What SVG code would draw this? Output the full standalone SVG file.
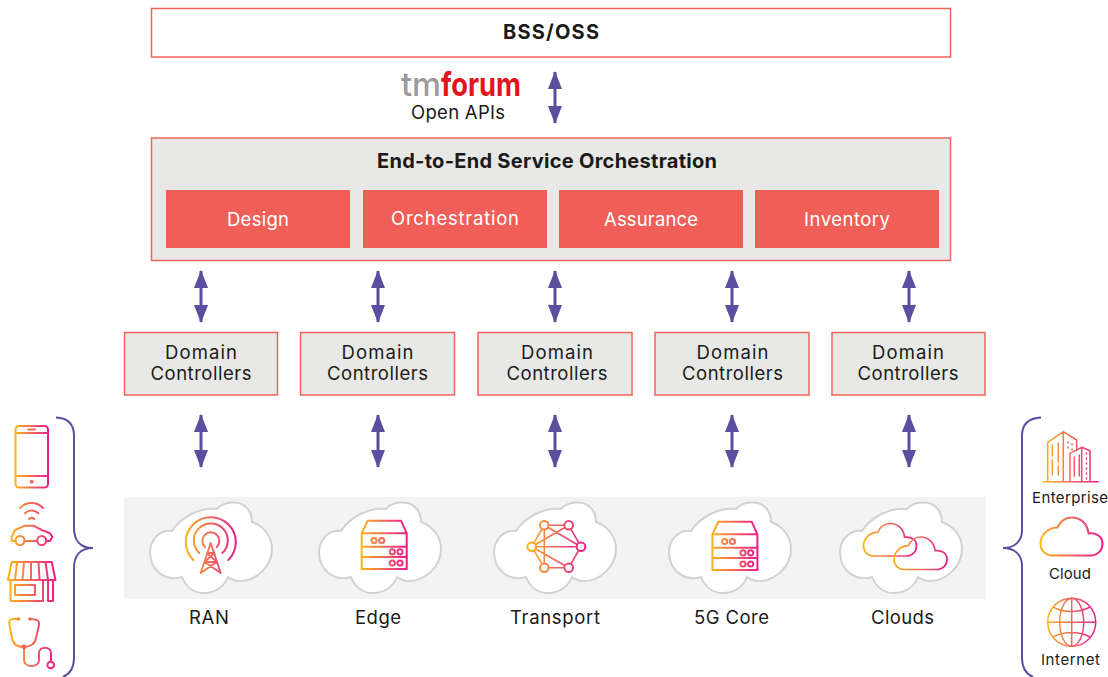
<svg xmlns="http://www.w3.org/2000/svg" xmlns:xlink="http://www.w3.org/1999/xlink" width="1108" height="677" viewBox="0 0 1108 677">
<style>
text{font-family:"Inter","Lato",sans-serif;fill:#1a1a1a;text-anchor:middle;font-size:18.5px;font-weight:400}
.b{font-weight:700;font-size:20px}
.w{fill:#fff}
.s{font-size:15px}
.logo{font-size:33px;font-weight:700}
.box{fill:#e8e8e6;stroke:#f0645c;stroke-width:1.5}
.red{fill:#ef5f58}
.cl{fill:#fff;stroke:#d2d2d2;stroke-width:2}
.arr{stroke:#5a4e9f;stroke-width:3;fill:none;marker-start:url(#ah);marker-end:url(#ah)}
.brace{fill:none;stroke:#5a4e9f;stroke-width:2}
.i{fill:none;stroke-width:2;stroke-linecap:round;stroke-linejoin:round}
.t{stroke-width:1.5}
</style>
<defs>
<marker id="ah" viewBox="0 0 18 14" refX="17" refY="7" markerWidth="18" markerHeight="14" markerUnits="userSpaceOnUse" orient="auto-start-reverse"><path d="M0 0L18 7L0 14Z" fill="#5a4e9f"/></marker>
<linearGradient id="g0"><stop offset="0" stop-color="#fdb515"/><stop offset=".5" stop-color="#f0675c"/><stop offset="1" stop-color="#ec1a8c"/></linearGradient>
<linearGradient id="gPhone" xlink:href="#g0" href="#g0" gradientUnits="userSpaceOnUse" x1="15" x2="49" y1="0" y2="0"/>
<linearGradient id="gCar" xlink:href="#g0" href="#g0" gradientUnits="userSpaceOnUse" x1="10" x2="54" y1="0" y2="0"/>
<linearGradient id="gStore" xlink:href="#g0" href="#g0" gradientUnits="userSpaceOnUse" x1="8" x2="56" y1="0" y2="0"/>
<linearGradient id="gSteth" xlink:href="#g0" href="#g0" gradientUnits="userSpaceOnUse" x1="9" x2="55" y1="0" y2="0"/>
<linearGradient id="gRan" xlink:href="#g0" href="#g0" gradientUnits="userSpaceOnUse" x1="185" x2="236" y1="0" y2="0"/>
<linearGradient id="gEdge" xlink:href="#g0" href="#g0" gradientUnits="userSpaceOnUse" x1="361" x2="407" y1="0" y2="0"/>
<linearGradient id="gTrans" xlink:href="#g0" href="#g0" gradientUnits="userSpaceOnUse" x1="527" x2="586" y1="0" y2="0"/>
<linearGradient id="gEnt" xlink:href="#g0" href="#g0" gradientUnits="userSpaceOnUse" x1="1043" x2="1099" y1="0" y2="0"/>
<linearGradient id="gCl" xlink:href="#g0" href="#g0" gradientUnits="userSpaceOnUse" x1="0" x2="62" y1="0" y2="0"/>
<linearGradient id="gGlobe" xlink:href="#g0" href="#g0" gradientUnits="userSpaceOnUse" x1="1047" x2="1096" y1="0" y2="0"/>
<path id="bigcloud" class="cl" d="M22 29C31 15 50 5 67 7C74-1 90-2 97 6C101 10 102 15 102 20C114 24 122 35 122 47C122 65 105 80 88 79C83 78 80 77 78 75C74 85 65 91 54 91C44 91 36 85 32 75C15 80 0 68 0 50C0 38 10 27 22 29Z"/>
<path id="smallcloud" d="M12 38H50C57 38 62 33 62 26C62 19 56 15 48 16C47 6 40 0 31 0C24 0 19 5 17 10C8 10 0 17 0 26C0 33 5 38 12 38Z"/>
<g id="server">
<path d="M367.700 520.700H401L406.700 533.300H361.700ZM361.700 533.300V569H406.700V533.300M361.700 546.700H406.700M361.700 557H406.700"/>
<circle cx="374" cy="540.500" r="2.600"/><circle cx="381.700" cy="540.500" r="2.600"/>
<circle cx="392.300" cy="551.800" r="2.600"/><circle cx="400" cy="551.800" r="2.600"/>
<circle cx="392.300" cy="563" r="2.600"/><circle cx="400" cy="563" r="2.600"/>
</g>
</defs>

<g id="connectors">
<line class="arr" x1="555" y1="72" x2="555" y2="123"/>
<line class="arr" x1="201" y1="271" x2="201" y2="322"/>
<line class="arr" x1="378" y1="271" x2="378" y2="322"/>
<line class="arr" x1="555" y1="271" x2="555" y2="322"/>
<line class="arr" x1="732" y1="271" x2="732" y2="322"/>
<line class="arr" x1="909" y1="271" x2="909" y2="322"/>
<line class="arr" x1="201" y1="415" x2="201" y2="467"/>
<line class="arr" x1="378" y1="415" x2="378" y2="467"/>
<line class="arr" x1="555" y1="415" x2="555" y2="467"/>
<line class="arr" x1="732" y1="415" x2="732" y2="467"/>
<line class="arr" x1="909" y1="415" x2="909" y2="467"/>
</g>

<g id="bss"><rect x="151.500" y="8.500" width="799" height="48.500" fill="#fff" stroke="#f0645c" stroke-width="1.500"/>
<text class="b" x="551" y="39" textLength="96">BSS/OSS</text></g>

<g id="tmforum">
<text class="logo" x="421" y="96" textLength="40" lengthAdjust="spacingAndGlyphs" style="fill:#9b9b9b;font-weight:500">tm</text>
<text class="logo" x="481" y="96" textLength="80" lengthAdjust="spacingAndGlyphs" style="fill:#e2151f">forum</text>
<text x="458" y="119" textLength="94">Open APIs</text>
</g>

<g id="orchestration"><rect class="box" x="151.500" y="138" width="799" height="122.500"/>
<text class="b" x="547" y="168" textLength="340">End-to-End Service Orchestration</text></g>
<g id="design"><rect class="red" x="166" y="190" width="184" height="58"/><text class="w" x="258" y="226" textLength="62">Design</text></g>
<g id="orch"><rect class="red" x="363" y="190" width="184" height="58"/><text class="w" x="455" y="225" textLength="128">Orchestration</text></g>
<g id="assurance"><rect class="red" x="559" y="190" width="184" height="58"/><text class="w" x="651" y="226" textLength="94">Assurance</text></g>
<g id="inventory"><rect class="red" x="755" y="190" width="184" height="58"/><text class="w" x="847" y="226" textLength="86">Inventory</text></g>

<g id="dc1"><rect class="box" x="124.500" y="332.500" width="153" height="62.500"/><text x="201" y="359" textLength="72">Domain</text><text x="201" y="380" textLength="101">Controllers</text></g>
<g id="dc2"><rect class="box" x="300.500" y="332.500" width="154" height="62.500"/><text x="377.500" y="359" textLength="72">Domain</text><text x="377.500" y="380" textLength="101">Controllers</text></g>
<g id="dc3"><rect class="box" x="478" y="332.500" width="154" height="62.500"/><text x="557" y="359" textLength="72">Domain</text><text x="557" y="380" textLength="101">Controllers</text></g>
<g id="dc4"><rect class="box" x="655" y="332.500" width="154" height="62.500"/><text x="732.500" y="359" textLength="72">Domain</text><text x="732.500" y="380" textLength="101">Controllers</text></g>
<g id="dc5"><rect class="box" x="832" y="332.500" width="153" height="62.500"/><text x="908" y="359" textLength="72">Domain</text><text x="908" y="380" textLength="101">Controllers</text></g>

<rect id="band" x="124" y="497" width="862" height="102" fill="#f3f3f3"/>

<g id="ran"><use href="#bigcloud" x="150" y="502"/>
<g class="i" stroke="url(#gRan)">
<path d="M193.300 560A25 25 0 1 1 228.300 560M199.300 553A17 17 0 1 1 222.300 553M205 547A8.500 8.500 0 1 1 216.700 547"/>
<path d="M210.700 543L200.700 573M210.700 543L220.700 573M207 553H214.500M207 553L216.700 562M214.500 553L204.700 562M204.700 562H216.700M204.700 562L220.700 573M216.700 562L200.700 573" stroke-width="1.800"/>
</g>
<text x="209" y="624" textLength="40">RAN</text></g>

<g id="edge"><use href="#bigcloud" x="319" y="502"/>
<use href="#server" class="i" stroke="url(#gEdge)"/>
<text x="378" y="624" textLength="46">Edge</text></g>

<g id="transport"><use href="#bigcloud" x="494" y="502"/>
<g class="i" stroke="url(#gTrans)">
<path d="M531.700 546.700L544.300 525.300H568.700L581 546.700L568.700 567.700H544.300ZM531.700 546.700H581M531.700 546.700L568.700 525.300M531.700 546.700L568.700 567.700M544.300 525.300V567.700M544.300 525.300L581 546.700" stroke-width="1.600"/>
<g fill="#fff"><circle cx="531.700" cy="546.700" r="4.300"/><circle cx="544.300" cy="525.300" r="4.300"/><circle cx="568.700" cy="525.300" r="4.300"/><circle cx="581" cy="546.700" r="4.300"/><circle cx="568.700" cy="567.700" r="4.300"/><circle cx="544.300" cy="567.700" r="4.300"/></g>
</g>
<text x="555" y="624" textLength="90">Transport</text></g>

<g id="core"><use href="#bigcloud" x="669" y="502"/>
<use href="#server" x="350.700" y="1" class="i" stroke="url(#gEdge)"/>
<text x="731.500" y="624" textLength="75">5G Core</text></g>

<g id="clouds"><use href="#bigcloud" x="840" y="502"/>
<use href="#smallcloud" transform="translate(863.500 523.500) scale(.855)" class="i" stroke="url(#gCl)"/>
<use href="#smallcloud" transform="translate(894 537) scale(.855)" class="i" stroke="url(#gCl)"/>
<text x="902.500" y="624" textLength="63">Clouds</text></g>

<g id="devices">
<path class="brace" d="M56 417.500C68 418 74 424 74 436V528C74 540 80 548 93 548C80 548 74 556 74 568V658C74 668 70 674 63 677"/>
<g id="phone" class="i" stroke="url(#gPhone)"><rect x="15.500" y="426" width="32.500" height="61.500" rx="3.500"/><path d="M16 433H48M16 476H48M28 429.500H35"/><circle cx="31.700" cy="481.700" r="2" fill="#f0675c" stroke="none"/></g>
<g id="car" class="i" stroke="url(#gCar)"><path d="M20 508A16 16 0 0 1 43 508M25 513.300A9.500 9.500 0 0 1 38.300 513.300M29 519A3.500 3.500 0 0 1 34.300 519"/><path d="M15.500 541H11.700V536.700L15 530L25 525.700H33.300L41.700 530L50 533.300L52.300 536.700L50 541H46.200M24.500 541H37.200"/><circle cx="20" cy="540.500" r="4.500"/><circle cx="41.700" cy="540.500" r="4.500"/></g>
<g id="store" class="i" stroke="url(#gStore)"><path d="M11.700 562H51.700L55.500 580H8ZM17 562L15 580M24 562L22.500 580M31 562L31 580M38.500 562L39.500 580M45.500 562L48 580"/><path d="M10.500 580V601H43V581M48 581V601H53V581"/><rect x="15" y="585" width="20" height="10"/></g>
<g id="steth" class="i" stroke="url(#gSteth)"><path d="M18 619H13C9 619 9 622 9.500 625L12 638C13 645 19 647 24 647C30 647 35 644 36 638L39 625C39.500 621 38 619 30 619M24 647V660C24 668 39 668 39 660V653C39 646 51 646 51 653V661"/><circle cx="50.700" cy="665" r="3.300"/><circle cx="18.500" cy="619" r="1.800" fill="#f58a3c" stroke="none"/><circle cx="30" cy="619" r="1.800" fill="#f0675c" stroke="none"/><circle cx="24" cy="647" r="2.400" fill="#f0675c" stroke="none"/></g>
</g>

<g id="networks">
<path class="brace" d="M1041 417.500C1029 418 1022 424 1022 436V530C1022 541 1015 548 1003 548C1015 548 1022 555 1022 566V658C1022 668 1026 674 1033 677"/>
<g id="enterprise"><g class="i t" stroke="url(#gEnt)"><path d="M1043.300 481.700H1098.300M1047.700 481.700V442.300L1063.300 431.700L1076.700 440V450.700M1070 481.700V453.300L1081.700 447.300L1090 450.700V481.700M1063.300 431.700V481.700M1081.700 447.300V481.700M1052.300 445V456M1052.300 460V475M1058.300 443V462M1058.300 466V475M1074.300 457V476M1079.300 455V476"/><path stroke-dasharray="1 4" d="M1068 442V450M1072 444V450M1086.500 453V480"/></g>
<text class="s" x="1070" y="503" textLength="76">Enterprise</text></g>
<g id="cloud"><use href="#smallcloud" transform="translate(1040.500 517.500)" class="i" stroke="url(#gCl)"/>
<text class="s" x="1070" y="579" textLength="42">Cloud</text></g>
<g id="internet"><g class="i t" stroke="url(#gGlobe)"><circle cx="1071.700" cy="622.300" r="24"/><ellipse cx="1071.700" cy="622.300" rx="12" ry="24"/><path d="M1071.700 598.300V646.300M1047.700 622.300H1095.700M1053 607C1064 613 1079 613 1090 607M1053 637C1064 631 1079 631 1090 637"/></g>
<text class="s" x="1070.500" y="665" textLength="59">Internet</text></g>
</g>
</svg>
